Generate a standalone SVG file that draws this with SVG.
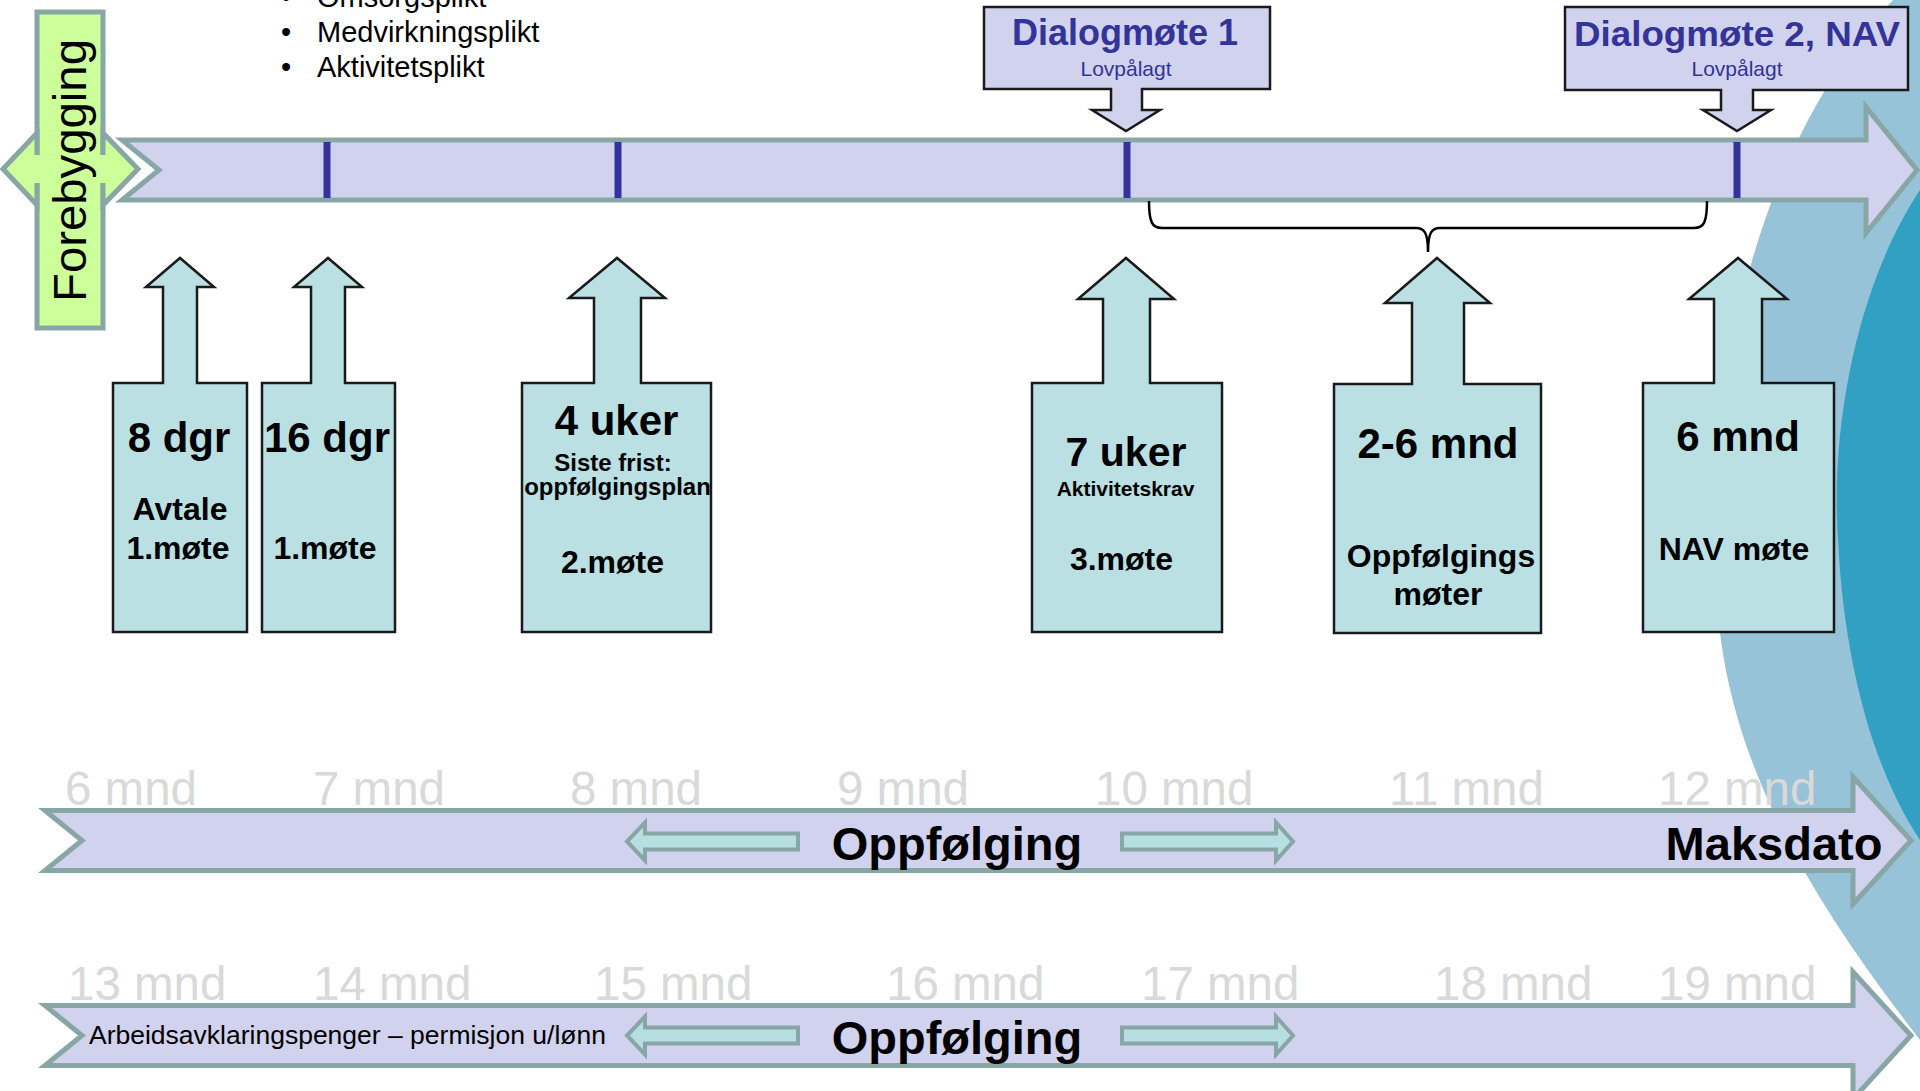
<svg xmlns="http://www.w3.org/2000/svg" width="1920" height="1091" viewBox="0 0 1920 1091">
<style>
text{font-family:"Liberation Sans",Arial,Helvetica,sans-serif;fill:#000}
.b{font-weight:bold}
.c{text-anchor:middle}
.bar{fill:#D0D2EE;stroke:#88A6A6;stroke-width:5;stroke-linejoin:miter}
.call{fill:#BBE0E3;stroke:#1A1A1A;stroke-width:2.5;stroke-linejoin:miter}
.dlg{fill:#D0D2EE;stroke:#1A1A1A;stroke-width:2.5;stroke-linejoin:miter}
.tick{fill:#333399}
.sm{fill:#B7DEE0;stroke:#88A6A6;stroke-width:4;stroke-linejoin:miter}
.mon{fill:#D9D9D9;font-size:47.5px}
.dt{fill:#333399}
.grn{fill:#CCFF99;stroke:#88A6A6;stroke-width:5;stroke-linejoin:miter}
</style>
<rect width="1920" height="1091" fill="#FFFFFF"/>
<g id="background">
<path d="M1893,0 C1780,120 1710,320 1716,560 C1714,740 1800,885 1920,1040 L1920,0 Z" fill="#96C3D7"/>
<path d="M1920,190 C1860,280 1830,420 1838,540 C1845,680 1880,780 1920,840 Z" fill="#32A0C3"/>
</g>
<g id="duties" font-size="29">
<text x="281" y="7">•</text><text x="317" y="7">Omsorgsplikt</text>
<text x="281" y="42">•</text><text x="317" y="42">Medvirkningsplikt</text>
<text x="281" y="77">•</text><text x="317" y="77">Aktivitetsplikt</text>
</g>
<g id="forebygging">
<rect x="37" y="12" width="66" height="316" fill="#CCFF99"/>
<path d="M37,155 L37,12 L103,12 L103,155 M103,183 L103,328 L37,328 L37,183" fill="none" stroke="#88A6A6" stroke-width="5"/>
<path class="grn" d="M37,155 L37,133 L3,169 L37,205 L37,183"/>
<path class="grn" d="M103,155 L103,133 L138,169 L103,205 L103,183"/>
<text transform="translate(86,170.5) rotate(-90)" class="c" font-size="47" textLength="263" lengthAdjust="spacingAndGlyphs">Forebygging</text>
</g>
<g id="timeline">
<path class="bar" d="M122,140 L1866,140 L1866,107 L1917,170 L1866,233 L1866,200 L122,200 L159,170 Z"/>
<rect class="tick" x="323.5" y="142" width="7" height="56"/>
<rect class="tick" x="614.5" y="142" width="7" height="56"/>
<rect class="tick" x="1123.5" y="142" width="7" height="56"/>
<rect class="tick" x="1733.5" y="142" width="7" height="56"/>
</g>
<g id="connectors">
<path d="M1149,201 C1149,222 1152,228 1162,228 L1416,228 C1424,228 1428,232 1428,252 C1428,232 1432,228 1440,228 L1694,228 C1704,228 1707,222 1707,201" fill="none" stroke="#000" stroke-width="2.5"/>
</g>
<g id="dialogmote1">
<path class="dlg" d="M984,7 L1270,7 L1270,89 L1142,89 L1142,110 L1160,110 L1126,131 L1092,110 L1111,110 L1111,89 L984,89 Z"/>
<text class="b dt c" x="1125" y="45" font-size="36">Dialogmøte 1</text>
<text class="dt c" x="1126" y="76" font-size="21">Lovpålagt</text>
</g>
<g id="dialogmote2">
<path class="dlg" d="M1565,7 L1908,7 L1908,90 L1753,90 L1753,110 L1771,110 L1737,131 L1703,110 L1721,110 L1721,90 L1565,90 Z"/>
<text class="b dt c" x="1737" y="46" font-size="35" textLength="326" lengthAdjust="spacingAndGlyphs">Dialogmøte 2, NAV</text>
<text class="dt c" x="1737" y="76" font-size="21">Lovpålagt</text>
</g>
<g id="dag8">
<path class="call" d="M113,632 L113,383 L163,383 L163,287 L146,287 L180,258 L214,287 L197,287 L197,383 L247,383 L247,632 Z"/>
<text class="b c" x="179" y="452" font-size="42">8 dgr</text>
<text class="b c" x="180" y="520" font-size="32">Avtale</text>
<text class="b c" x="178" y="559" font-size="32">1.møte</text>
</g>
<g id="dag16">
<path class="call" d="M262,632 L262,383 L311,383 L311,287 L294,287 L328,258 L362,287 L345,287 L345,383 L395,383 L395,632 Z"/>
<text class="b c" x="327" y="452" font-size="42">16 dgr</text>
<text class="b c" x="325" y="559" font-size="32">1.møte</text>
</g>
<g id="uke4">
<path class="call" d="M522,632 L522,383 L594,383 L594,298 L569,298 L617,258 L665,298 L641,298 L641,383 L711,383 L711,632 Z"/>
<text class="b c" x="616.5" y="435" font-size="42">4 uker</text>
<text class="b c" x="613" y="471" font-size="24">Siste frist:</text>
<text class="b c" x="617.5" y="495" font-size="24">oppfølgingsplan</text>
<text class="b c" x="612.5" y="573" font-size="32">2.møte</text>
</g>
<g id="uke7">
<path class="call" d="M1032,632 L1032,383 L1103,383 L1103,299 L1078,299 L1126,258 L1174,299 L1150,299 L1150,383 L1222,383 L1222,632 Z"/>
<text class="b c" x="1126" y="466" font-size="41">7 uker</text>
<text class="b c" x="1125.5" y="496" font-size="21">Aktivitetskrav</text>
<text class="b c" x="1121.5" y="570" font-size="32">3.møte</text>
</g>
<g id="mnd2-6">
<path class="call" d="M1334,633 L1334,384 L1412,384 L1412,303 L1385,303 L1437,258 L1490,303 L1464,303 L1464,384 L1541,384 L1541,633 Z"/>
<text class="b c" x="1438" y="458" font-size="42">2-6 mnd</text>
<text class="b c" x="1441" y="567" font-size="32">Oppfølgings</text>
<text class="b c" x="1438" y="605" font-size="32">møter</text>
</g>
<g id="mnd6">
<path class="call" d="M1643,632 L1643,383 L1714,383 L1714,299 L1689,299 L1738,258 L1787,299 L1762,299 L1762,383 L1834,383 L1834,632 Z"/>
<text class="b c" x="1738" y="451" font-size="42">6 mnd</text>
<text class="b c" x="1734" y="560" font-size="32">NAV møte</text>
</g>
<g id="rad2">
<path class="bar" d="M45,810.5 L1853,810.5 L1853,777 L1911,840.5 L1853,904 L1853,870.5 L45,870.5 L82,840.5 Z"/>
<path class="sm" d="M798,833.5 L645,833.5 L645,822.5 L627,841.5 L645,860.5 L645,849.5 L798,849.5 Z"/>
<path class="sm" d="M1122,833.5 L1276,833.5 L1276,822.5 L1293,841.5 L1276,860.5 L1276,849.5 L1122,849.5 Z"/>
<text class="b c" x="957" y="860" font-size="47">Oppfølging</text>
<text class="b c" x="1774" y="860" font-size="47">Maksdato</text>
<text class="mon" x="65" y="805">6 mnd</text>
<text class="mon" x="313" y="805">7 mnd</text>
<text class="mon" x="570" y="805">8 mnd</text>
<text class="mon" x="837" y="805">9 mnd</text>
<text class="mon" x="1095" y="805">10 mnd</text>
<text class="mon" x="1389" y="805">11 mnd</text>
<text class="mon" x="1658" y="805">12 mnd</text>
</g>
<g id="rad3">
<path class="bar" d="M45,1005.5 L1853,1005.5 L1853,972 L1911,1035.5 L1853,1099 L1853,1065.5 L45,1065.5 L82,1035.5 Z"/>
<path class="sm" d="M798,1027.5 L645,1027.5 L645,1016.5 L627,1035.5 L645,1054.5 L645,1043.5 L798,1043.5 Z"/>
<path class="sm" d="M1122,1027.5 L1276,1027.5 L1276,1016.5 L1293,1035.5 L1276,1054.5 L1276,1043.5 L1122,1043.5 Z"/>
<text x="89" y="1044" font-size="26" textLength="517" lengthAdjust="spacingAndGlyphs">Arbeidsavklaringspenger – permisjon u/lønn</text>
<text class="b c" x="957" y="1054" font-size="47">Oppfølging</text>
<text class="mon" x="68" y="1000">13 mnd</text>
<text class="mon" x="313" y="1000">14 mnd</text>
<text class="mon" x="594" y="1000">15 mnd</text>
<text class="mon" x="886" y="1000">16 mnd</text>
<text class="mon" x="1141" y="1000">17 mnd</text>
<text class="mon" x="1434" y="1000">18 mnd</text>
<text class="mon" x="1658" y="1000">19 mnd</text>
</g>
</svg>
